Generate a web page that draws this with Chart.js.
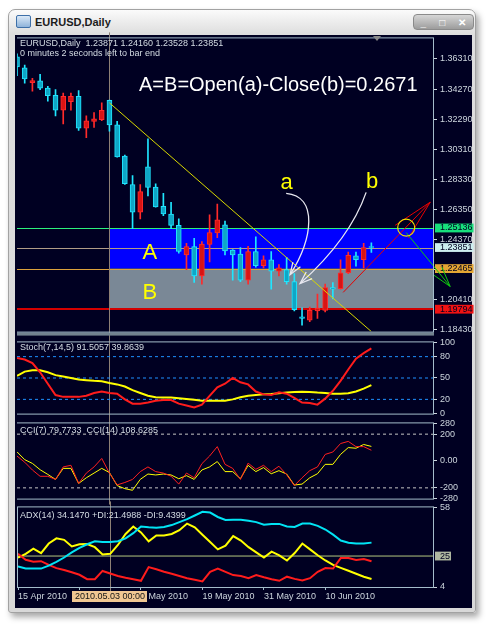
<!DOCTYPE html>
<html>
<head>
<meta charset="utf-8">
<script src="https://cdn.jsdelivr.net/npm/chart.js@4.4.1/dist/chart.umd.min.js"></script>
<style>
  body { margin: 0; width: 490px; height: 625px; background: #fff; overflow: hidden; font-family: "Liberation Sans", Arial, sans-serif; }
  #win { position: absolute; left: 8px; top: 9px; width: 466px; height: 602px; border: 1px solid #a2a2a2; border-radius: 7px 7px 3px 3px;
         background: linear-gradient(to bottom, #fbfbfb 0, #ececec 12px, #dedede 24px, #d8d8d8 100%); box-shadow: 3px 4px 6px rgba(0,0,0,0.35); }
  #icon { position: absolute; left: 7px; top: 5px; width: 13px; height: 11px; border: 1px solid #3d6fa8; border-radius: 2px; background: linear-gradient(#dbe9f7, #8fb3da); }
  #title { position: absolute; left: 26px; top: 6px; font-size: 11px; font-weight: bold; color: #1c1c1c; }
  #btns { position: absolute; left: 404px; top: 4px; width: 59px; height: 14px; border: 1px solid #8a8a8a; border-radius: 4px;
          background: linear-gradient(#d6d6d6, #9c9c9c); color: #fff; font-size: 10px; font-weight: bold; display: flex; justify-content: space-around; align-items: center; }
  #screen { position: absolute; left: 15px; top: 35px; width: 457px; height: 573px; background: #000022; }
  canvas { position: absolute; }
  .txt { position: absolute; font-size: 9px; color: #d4dce4; white-space: pre; line-height: 10px; }
  #shift { position: absolute; left: 373px; top: 36px; width: 0; height: 0; border-left: 4px solid transparent; border-right: 4px solid transparent; border-top: 5px solid #8a8a8a; }
</style>
</head>
<body>
<div id="win">
  <div id="icon"></div>
  <div id="title">EURUSD,Daily</div>
  <div id="btns"><span>_</span><span>&#9633;</span><span>&#10005;</span></div>
</div>
<div id="screen"></div>
<canvas id="mainChart" width="473" height="310" style="left:17px;top:30px"></canvas>
<canvas id="stochChart" width="473" height="88" style="left:17px;top:334px"></canvas>
<canvas id="cciChart" width="473" height="92" style="left:17px;top:415px"></canvas>
<canvas id="adxChart" width="473" height="109" style="left:17px;top:499px"></canvas>
<div id="shift"></div>
<div class="txt" style="left:20px;top:38px">EURUSD,Daily  1.23871 1.24160 1.23528 1.23851</div>
<div class="txt" style="left:20px;top:48px">0 minutes 2 seconds left to bar end</div>
<div class="txt" style="left:20px;top:342px">Stoch(7,14,5) 91.5057 39.8639</div>
<div class="txt" style="left:20px;top:425px">CCI(7) 79.7733  CCI(14) 108.6285</div>
<div class="txt" style="left:20px;top:510px">ADX(14) 34.1470 +DI:21.4988 -DI:9.4399</div>
<script>
// daily bars, 15 Apr 2010 .. 18 Jun 2010
const dates = [
  "15 Apr 2010", "16 Apr 2010", "19 Apr 2010", "20 Apr 2010", "21 Apr 2010", "22 Apr 2010", "23 Apr 2010", "26 Apr 2010",
  "27 Apr 2010", "28 Apr 2010", "29 Apr 2010", "30 Apr 2010", "3 May 2010", "4 May 2010", "5 May 2010", "6 May 2010",
  "7 May 2010", "10 May 2010", "11 May 2010", "12 May 2010", "13 May 2010", "14 May 2010", "17 May 2010", "18 May 2010",
  "19 May 2010", "20 May 2010", "21 May 2010", "24 May 2010", "25 May 2010", "26 May 2010", "27 May 2010", "28 May 2010",
  "31 May 2010", "1 Jun 2010", "2 Jun 2010", "3 Jun 2010", "4 Jun 2010", "7 Jun 2010", "8 Jun 2010", "9 Jun 2010",
  "10 Jun 2010", "11 Jun 2010", "14 Jun 2010", "15 Jun 2010", "16 Jun 2010", "17 Jun 2010", "18 Jun 2010"
];
const opens = [1.3640, 1.3568, 1.3469, 1.3482, 1.3434, 1.3387, 1.3288, 1.3344, 1.3380, 1.3170, 1.3215, 1.3226,
  1.3353, 1.3193, 1.2987, 1.2800, 1.2617, 1.2916, 1.2782, 1.2656, 1.2606, 1.2531, 1.2337, 1.2391,
  1.2198, 1.2406, 1.2482, 1.2535, 1.2368, 1.2342, 1.2170, 1.2359, 1.2266, 1.2305, 1.2230, 1.2240,
  1.2161, 1.1929, 1.1908, 1.1968, 1.1972, 1.2122, 1.2115, 1.2219, 1.2331, 1.2305, 1.23871];
const highs = [1.3660, 1.3585, 1.3499, 1.3524, 1.3445, 1.3424, 1.3402, 1.3402, 1.3417, 1.3251, 1.3273, 1.3337,
  1.3356, 1.3215, 1.2993, 1.2858, 1.2800, 1.3101, 1.2804, 1.2742, 1.2682, 1.2574, 1.2413, 1.2445,
  1.2424, 1.2600, 1.2671, 1.2559, 1.2372, 1.2385, 1.2393, 1.2456, 1.2331, 1.2359, 1.2273, 1.2320,
  1.2213, 1.1989, 1.1993, 1.2079, 1.2144, 1.2155, 1.2305, 1.2355, 1.2355, 1.2413, 1.24160];
const lows = [1.3516, 1.3466, 1.3413, 1.3424, 1.3348, 1.3251, 1.3198, 1.3288, 1.3155, 1.3108, 1.3176, 1.3219,
  1.3150, 1.2979, 1.2800, 1.2510, 1.2574, 1.2724, 1.2650, 1.2595, 1.2510, 1.2348, 1.2240, 1.2155,
  1.2144, 1.2290, 1.2450, 1.2337, 1.2170, 1.2161, 1.2144, 1.2256, 1.2251, 1.2111, 1.2198, 1.2144,
  1.1968, 1.1875, 1.1897, 1.1918, 1.1961, 1.2047, 1.2111, 1.2213, 1.2262, 1.2251, 1.23528];
const closes = [1.3574, 1.3495, 1.3484, 1.3434, 1.3385, 1.3288, 1.3380, 1.3380, 1.3170, 1.3219, 1.3232, 1.3288,
  1.3191, 1.2982, 1.2806, 1.2617, 1.2753, 1.2780, 1.2653, 1.2606, 1.2531, 1.2359, 1.2391, 1.2198,
  1.2408, 1.2484, 1.2568, 1.2363, 1.2337, 1.2170, 1.2359, 1.2266, 1.2305, 1.2230, 1.2251, 1.2161,
  1.1976, 1.1919, 1.1972, 1.1987, 1.2122, 1.2111, 1.2219, 1.2333, 1.2305, 1.2385, 1.23851];

const stochMain = [78, 76, 71, 58, 42, 26, 23.5, 23.5, 23.5, 25, 29, 31, 29, 28, 20, 14, 14, 15.5, 18, 19, 19, 14, 11.5, 8.5,
  12.6, 25, 37, 42, 50, 44, 41, 31, 27, 26, 30, 28, 22, 15.5, 15, 12.6, 21, 32, 46, 62, 77, 85, 91.5];
const stochSignal = [53, 59, 61, 61, 58, 54, 52, 50, 48, 47, 46, 45.5, 43, 41, 38, 33, 29, 25, 23, 22.5, 22.5, 21.5, 20.5, 19.5,
  18, 18, 18, 18, 20, 23, 25, 26, 27, 27.5, 28.5, 29.5, 30.5, 30.8, 30.5, 29.5, 29, 28, 28, 28.5, 31, 35, 39.9];
const cci7 = [37, -9, -67, -114, -114, -137, -44, -32, -167, -90, -44, 19, -90, -178, -160, -137, -79, -44, -79, -90, -113, -172, -90, -125,
  -20, 37, 107, -25, -55, -137, -16, -62, -32, -79, -39, -102, -183, -125, -72, -44, 49, 67, 130, 146, 107, 107, 80];
const cci14 = [68, 10, -18, -65, -100, -137, -55, -55, -167, -125, -90, -55, -86, -183, -206, -218, -137, -97, -104, -97, -104, -132, -109, -137,
  -67, -44, -4, -79, -79, -132, -32, -79, -49, -95, -72, -97, -179, -172, -125, -95, -25, -25, 49, 100, 95, 123, 108.6];
const adxMain = [18, 16.5, 16.5, 16.5, 18.5, 21, 24, 27.5, 30.5, 33, 35, 34.5, 34.5, 35, 37, 40.5, 45, 44.5, 44.2, 44.7, 46, 48, 50, 52.5,
  55, 54.5, 51.5, 49.5, 49.6, 49.6, 49, 48, 46.3, 46.8, 46.8, 45, 44.7, 47, 47, 45.5, 43, 39.5, 35.5, 34, 33.5, 33.5, 34.1];
const plusDI = [26.6, 22.5, 21.2, 21.5, 19, 16.8, 15.5, 14, 12.3, 9.3, 9.3, 14.9, 13.2, 11.5, 10.3, 9.3, 8.2, 17.5, 16, 14.3, 13, 11.5, 10, 8.9,
  7.8, 14.3, 16.5, 14.3, 12.1, 11.5, 10, 12.1, 10.6, 9.3, 8.2, 11, 9.5, 8.4, 10, 14.3, 16.9, 16.5, 23.6, 23.6, 22.3, 23, 21.5];
const minusDI = [24, 26.5, 30, 27, 33.5, 37, 36, 31.5, 33, 33.2, 31, 26, 26.5, 32.5, 40, 45, 41, 35, 39, 39, 40, 42.5, 47, 44.5,
  39.5, 34.5, 29.5, 32, 38.5, 35.5, 31, 27.5, 24, 28, 25.5, 22, 27, 33.5, 29.5, 25.5, 22, 19, 17, 15, 13, 11, 9.44];

const priceTicks = [1.36310, 1.34270, 1.32290, 1.30310, 1.28330, 1.26350, 1.24370, 1.22390, 1.20410, 1.18430];
const zoneTop = 1.25136, bidPrice = 1.23851, zoneMid = 1.22465, zoneBottom = 1.19794;
const markPrices = [zoneTop, bidPrice, zoneMid, zoneBottom];
const markColors = ["#17df7c", "#cdeef0", "#e4a633", "#f01212"];
const stochTicks = [100, 80, 50, 20, 0];
const stochLevels = [80, 50, 20];
const cciTicks = [280, 200, 0, -200, -280];
const cciLevels = [200, -200];
const adxTicks = [58, 25, 4];
const adxLevel = 25;
const dateTicks = [0, 8, 16, 24, 32, 40];
const trendLine = [{ x: 12, y: 1.3337 }, { x: 46, y: 1.1832 }];
const crossBar = 12;
const crossLabel = "2010.05.03 00:00";
const lastSlot = 54;

// hand drawn objects, in (bar, price)
const curveA = [[34.94, 1.27417], [39.09, 1.27223], [38.44, 1.24449], [35.45, 1.22062]];
const curveB = [[45.32, 1.27482], [43.25, 1.24449], [36.75, 1.21482]];
const redArrow = [[42.34, 1.20901], [53.64, 1.26836]];
const greenArrow = [[50.52, 1.24836], [56.23, 1.21288]];
const circleAt = [50.52, 1.25159];
const textMarks = [
  { t: "A=B=Open(a)-Close(b)=0.2671", at: [15.84, 1.34514], color: "#ffffff", size: 20 },
  { t: "A", at: [16.3, 1.23501], color: "#ffff00", size: 22 },
  { t: "B", at: [16.3, 1.20836], color: "#ffff00", size: 22 },
  { t: "a", at: [34.2, 1.28127], color: "#ffff00", size: 22 },
  { t: "b", at: [45.3, 1.28191], color: "#ffff00", size: 22 }
];

const AXIS_W = 57;
const FONT = "Liberation Sans, Arial, sans-serif";
const tickFont = { family: FONT, size: 9 };
const axisColor = "#ccd5dd";
const frameColor = "#a4bccb";

Chart.defaults.animation = false;
Chart.defaults.events = [];
Chart.defaults.plugins.legend.display = false;
Chart.defaults.plugins.tooltip.enabled = false;

const up = closes.map((c, i) => c >= opens[i]);
const bullLine = "#ff2a2a", bullFill = "#d81414", bearLine = "#1fe6ff", bearFill = "#0fa6c6";

function series(values) {
  return values.map((v, i) => ({ x: i, y: v }));
}
function level(v) {
  return [{ x: 0, y: v }, { x: lastSlot, y: v }];
}

function xAxis(show) {
  const axis = {
    type: "linear", min: 0, max: lastSlot, offset: false, display: show,
    afterBuildTicks: s => { s.ticks = dateTicks.map(v => ({ value: v })); },
    grid: { drawOnChartArea: false, drawTicks: true, tickLength: 3, tickColor: frameColor },
    border: { display: true, color: frameColor },
    ticks: { align: "start", padding: 1, autoSkip: false, maxRotation: 0, color: axisColor, font: tickFont,
      callback: v => dates[v] }
  };
  if (show) axis.afterFit = s => { s.height = 21; };
  return axis;
}

function yAxis(min, max, values, fmt, backdrop) {
  return {
    type: "linear", position: "right", min, max,
    afterBuildTicks: s => { s.ticks = values.map(v => ({ value: v })); },
    afterFit: s => { s.width = AXIS_W; },
    grid: { drawOnChartArea: false, drawTicks: true, tickLength: 4,
      tickColor: c => (backdrop && backdrop(c.tick.value) ? "transparent" : axisColor) },
    border: { display: true, color: frameColor },
    ticks: {
      autoSkip: false, padding: 3, font: tickFont, callback: v => fmt(v),
      color: c => (backdrop && backdrop(c.tick.value) ? "#000020" : axisColor),
      showLabelBackdrop: c => !!(backdrop && backdrop(c.tick.value)),
      backdropColor: c => (backdrop && backdrop(c.tick.value)) || "transparent",
      backdropPadding: { left: 5, right: 1, top: -1, bottom: -1 }
    }
  };
}

// crosshair under the data, frame on top
const panelFrame = {
  id: "panelFrame",
  beforeDatasetsDraw(chart) {
    const { ctx, chartArea: a, scales: { x } } = chart;
    const cx = Math.round(x.getPixelForValue(crossBar)) + 0.5;
    ctx.save();
    ctx.strokeStyle = "#8d8075";
    ctx.lineWidth = 1;
    ctx.beginPath();
    ctx.moveTo(cx, a.top - 6);
    ctx.lineTo(cx, a.bottom + 6);
    ctx.stroke();
    ctx.restore();
  },
  afterDraw(chart) {
    const { ctx, chartArea: a } = chart;
    ctx.save();
    ctx.strokeStyle = frameColor;
    ctx.lineWidth = 1;
    ctx.strokeRect(a.left - 0.5, a.top - 0.5, a.right - a.left + 1, a.bottom - a.top + 1);
    ctx.restore();
  }
};

function arrowHead(ctx, fx, fy, tx, ty, len, ang) {
  const d = Math.atan2(ty - fy, tx - fx);
  ctx.beginPath();
  ctx.moveTo(tx - len * Math.cos(d - ang), ty - len * Math.sin(d - ang));
  ctx.lineTo(tx, ty);
  ctx.lineTo(tx - len * Math.cos(d + ang), ty - len * Math.sin(d + ang));
  ctx.stroke();
}

const mainDecor = {
  id: "mainDecor",
  beforeDatasetsDraw(chart) {
    const { ctx, chartArea: a, scales: { x, y } } = chart;
    const bx = x.getPixelForValue(crossBar);
    ctx.save();
    ctx.fillStyle = "#0000ff";
    ctx.fillRect(bx, y.getPixelForValue(zoneTop), a.right - bx, y.getPixelForValue(zoneMid) - y.getPixelForValue(zoneTop));
    ctx.fillStyle = "#7a8896";
    ctx.fillRect(bx, y.getPixelForValue(zoneMid), a.right - bx, y.getPixelForValue(zoneBottom) - y.getPixelForValue(zoneMid));
    const hl = [[zoneTop, "#2cf07c", 1], [bidPrice, "#b09c86", 1], [zoneMid, "#dca23c", 1], [zoneBottom, "#d40000", 2]];
    hl.forEach(([v, c, w]) => {
      const py = Math.round(y.getPixelForValue(v)) + (w === 1 ? 0.5 : 0);
      ctx.strokeStyle = c;
      ctx.lineWidth = w;
      ctx.beginPath();
      ctx.moveTo(a.left, py);
      ctx.lineTo(a.right, py);
      ctx.stroke();
    });
    ctx.restore();
  },
  afterDatasetsDraw(chart) {
    const { ctx, scales: { x, y } } = chart;
    const P = p => [x.getPixelForValue(p[0]), y.getPixelForValue(p[1])];
    ctx.save();
    ctx.lineWidth = 1.3;
    ctx.strokeStyle = "#e8e8f0";
    const a = curveA.map(P);
    ctx.beginPath();
    ctx.moveTo(a[0][0], a[0][1]);
    ctx.bezierCurveTo(a[1][0], a[1][1], a[2][0], a[2][1], a[3][0], a[3][1]);
    ctx.stroke();
    arrowHead(ctx, a[2][0], a[2][1], a[3][0], a[3][1], 13, 0.35);
    const b = curveB.map(P);
    ctx.beginPath();
    ctx.moveTo(b[0][0], b[0][1]);
    ctx.quadraticCurveTo(b[1][0], b[1][1], b[2][0], b[2][1]);
    ctx.stroke();
    arrowHead(ctx, b[1][0], b[1][1], b[2][0], b[2][1], 13, 0.35);

    ctx.lineWidth = 1;
    ctx.strokeStyle = "#e80000";
    const r = redArrow.map(P);
    ctx.beginPath();
    ctx.moveTo(r[0][0], r[0][1]);
    ctx.lineTo(r[1][0], r[1][1]);
    ctx.stroke();
    arrowHead(ctx, r[0][0], r[0][1], r[1][0], r[1][1], 42, 0.22);

    ctx.strokeStyle = "#10c810";
    const g = greenArrow.map(P);
    ctx.beginPath();
    ctx.moveTo(g[0][0], g[0][1]);
    ctx.lineTo(g[1][0], g[1][1]);
    ctx.stroke();
    arrowHead(ctx, g[0][0], g[0][1], g[1][0], g[1][1], 21, 0.28);

    const c = P(circleAt);
    ctx.strokeStyle = "#f0e000";
    ctx.lineWidth = 1.2;
    ctx.beginPath();
    ctx.arc(c[0], c[1], 8.5, 0, Math.PI * 2);
    ctx.stroke();

    ctx.textBaseline = "middle";
    textMarks.forEach(m => {
      const p = P(m.at);
      ctx.font = m.size + "px " + FONT;
      ctx.fillStyle = m.color;
      ctx.fillText(m.t, p[0], p[1]);
    });
    ctx.restore();
  },
  afterDraw(chart) {
    const { ctx, chartArea: a } = chart;
    ctx.save();
    ctx.fillStyle = "#72828f";
    ctx.fillRect(a.left - 1, a.bottom + 1, a.right - a.left + 2, 3);
    ctx.restore();
  }
};

const dateBox = {
  id: "dateBox",
  afterDraw(chart) {
    const { ctx, chartArea: a, scales: { x } } = chart;
    const cx = Math.round(x.getPixelForValue(crossBar));
    ctx.save();
    ctx.fillStyle = "#f0c792";
    ctx.fillRect(cx - 38, a.bottom + 4, 75, 11);
    ctx.fillStyle = "#151515";
    ctx.font = "9px " + FONT;
    ctx.textAlign = "center";
    ctx.textBaseline = "middle";
    ctx.fillText(crossLabel, cx, a.bottom + 10);
    ctx.restore();
  }
};

const wickData = opens.map((o, i) => ({ x: i, y: [lows[i], highs[i]] }));
const bodyData = opens.map((o, i) => ({ x: i, y: [o, closes[i]] }));

new Chart(document.getElementById("mainChart"), {
  type: "bar",
  data: {
    datasets: [
      { type: "line", data: trendLine, borderColor: "#d8d800", borderWidth: 1, pointRadius: 0, order: 0 },
      { data: bodyData, grouped: false, barThickness: 5, minBarLength: 1, borderWidth: 1, borderSkipped: false,
        backgroundColor: up.map(u => (u ? bullFill : bearFill)), borderColor: up.map(u => (u ? bullLine : bearLine)), order: 1 },
      { data: wickData, grouped: false, barThickness: 1, borderWidth: 0,
        backgroundColor: up.map(u => (u ? bullLine : bearLine)), order: 2 }
    ]
  },
  options: {
    responsive: false,
    devicePixelRatio: 1,
    layout: { padding: { top: 6, bottom: 5, left: 0, right: 0 } },
    scales: {
      x: xAxis(false),
      y: yAxis(1.18320, 1.37610, priceTicks.concat(markPrices), v => v.toFixed(5), v => markColors[markPrices.indexOf(v)])
    }
  },
  plugins: [mainDecor, panelFrame]
});

function lineSet(values, color, width) {
  return { data: series(values), borderColor: color, borderWidth: width, pointRadius: 0, tension: 0 };
}
function levelSet(v, color, dash) {
  return { data: level(v), borderColor: color, borderWidth: 1, borderDash: dash, pointRadius: 0 };
}

new Chart(document.getElementById("stochChart"), {
  type: "line",
  data: {
    datasets: [
      lineSet(stochMain, "#ff1c1c", 2),
      lineSet(stochSignal, "#ffff00", 2),
      ...stochLevels.map(v => levelSet(v, "#1e90ff", [3, 3]))
    ]
  },
  options: {
    responsive: false, devicePixelRatio: 1,
    layout: { padding: { top: 6, bottom: 6, left: 0, right: 0 } },
    scales: { x: xAxis(false), y: yAxis(0, 100, stochTicks, v => String(v)) }
  },
  plugins: [panelFrame]
});

new Chart(document.getElementById("cciChart"), {
  type: "line",
  data: {
    datasets: [
      lineSet(cci7, "#ff2020", 1),
      lineSet(cci14, "#ffff00", 1),
      ...cciLevels.map(v => levelSet(v, "#c4c4c4", [3, 3]))
    ]
  },
  options: {
    responsive: false, devicePixelRatio: 1,
    layout: { padding: { top: 6, bottom: 6, left: 0, right: 0 } },
    scales: { x: xAxis(false), y: yAxis(-280, 280, cciTicks, v => (v === 0 ? "0.00" : String(v))) }
  },
  plugins: [panelFrame]
});

new Chart(document.getElementById("adxChart"), {
  type: "line",
  data: {
    datasets: [
      lineSet(adxMain, "#00e4f4", 2),
      lineSet(plusDI, "#ff1c1c", 2),
      lineSet(minusDI, "#ffff00", 2),
      levelSet(adxLevel, "#b4c880", [])
    ]
  },
  options: {
    responsive: false, devicePixelRatio: 1,
    layout: { padding: { top: 6, bottom: 0, left: 0, right: 0 } },
    scales: { x: xAxis(true), y: yAxis(4, 58, adxTicks, v => String(v), v => (v === adxLevel ? "#aeb7a0" : null)) }
  },
  plugins: [panelFrame, dateBox]
});
</script>
</body>
</html>
